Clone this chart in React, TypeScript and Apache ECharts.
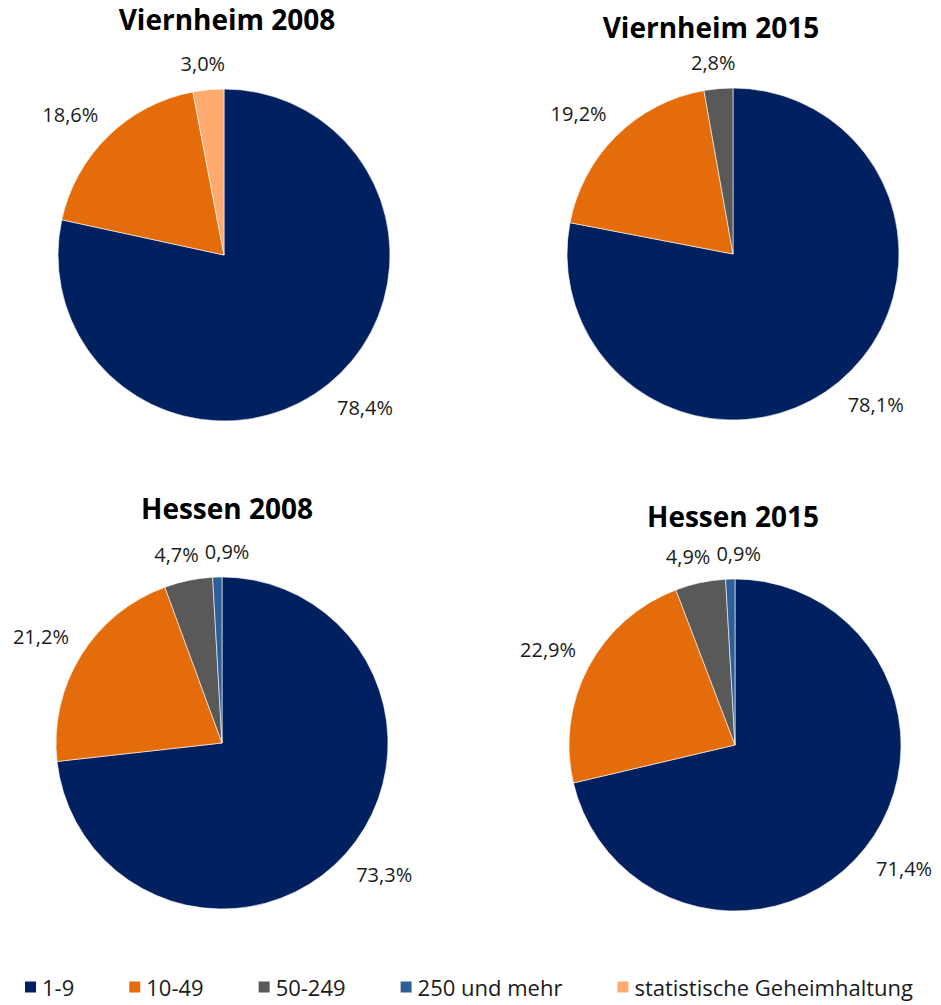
import React, { useEffect, useRef } from "react";
import * as echarts from "echarts";

const categories = ["1-9", "10-49", "50-249", "250 und mehr", "statistische Geheimhaltung"];
const colors: Record<string, string> = {
  "1-9": "#002060",
  "10-49": "#E46C0A",
  "50-249": "#595959",
  "250 und mehr": "#2F5F98",
  "statistische Geheimhaltung": "#FFAA6E",
};

const viernheim2008Names = ["1-9", "10-49", "statistische Geheimhaltung"];
const viernheim2008Values = [78.4, 18.6, 3.0];
const viernheim2015Names = ["1-9", "10-49", "50-249"];
const viernheim2015Values = [78.1, 19.2, 2.8];
const hessen2008Names = ["1-9", "10-49", "50-249", "250 und mehr"];
const hessen2008Values = [73.3, 21.2, 4.7, 0.9];
const hessen2015Names = ["1-9", "10-49", "50-249", "250 und mehr"];
const hessen2015Values = [71.4, 22.9, 4.9, 0.9];

const panels = [
  { title: "Viernheim 2008", names: viernheim2008Names, values: viernheim2008Values, cx: 224, cy: 255, tx: 227, ty: 5 },
  { title: "Viernheim 2015", names: viernheim2015Names, values: viernheim2015Values, cx: 733, cy: 254, tx: 711, ty: 13 },
  { title: "Hessen 2008", names: hessen2008Names, values: hessen2008Values, cx: 222, cy: 743, tx: 227, ty: 494 },
  { title: "Hessen 2015", names: hessen2015Names, values: hessen2015Values, cx: 735, cy: 745, tx: 733, ty: 502 },
];

const RADIUS = 166;
const LABEL_GAP = 14;
const LABEL_FONT_SIZE = 20;
const LABEL_H = 24;
const FONT = "'Open Sans', 'Noto Sans', sans-serif";

const fmtValue = (v: number) => v.toFixed(1).replace(".", ",") + "%";

export default function App() {
  const ref = useRef<HTMLDivElement>(null);
  useEffect(() => {
    if (!ref.current) return;
    const chart = echarts.init(ref.current, undefined, { renderer: "svg" });

    // measure label widths
    const cnv = document.createElement("canvas");
    const ctx = cnv.getContext("2d");
    if (ctx) ctx.font = `${LABEL_FONT_SIZE}px ${FONT}`;
    const measure = (t: string) => (ctx ? ctx.measureText(t).width : t.length * 11);
    const clamp = (v: number) => Math.max(-1, Math.min(1, v * 2));

    // precompute label centres (Excel-like outside-end placement)
    const labelPos = panels.map((p) => {
      const total = p.values.reduce((a, b) => a + b, 0);
      let cum = 0;
      const pos = p.values.map((v) => {
        const mid = ((cum + v / 2) / total) * Math.PI * 2;
        cum += v;
        const ux = Math.sin(mid);
        const uy = -Math.cos(mid);
        const w = measure(fmtValue(v));
        return {
          x: p.cx + (RADIUS + LABEL_GAP) * ux + (w / 2) * clamp(ux),
          y: p.cy + (RADIUS + LABEL_GAP) * uy + (LABEL_H / 2) * clamp(uy),
          w,
        };
      });
      // resolve overlaps between neighbouring labels by pushing the later one clockwise
      for (let i = 1; i < pos.length; i++) {
        const a = pos[i - 1];
        const b = pos[i];
        const ox = (a.w + b.w) / 2 + 6 - Math.abs(b.x - a.x);
        const oy = LABEL_H - Math.abs(b.y - a.y);
        if (ox > 0 && oy > 0) {
          b.x += b.x >= a.x ? ox : ox + 2 * (a.x - b.x);
        }
      }
      return pos;
    });

    const labelLayout = (params: any) => {
      const lp = labelPos[params.seriesIndex][params.dataIndex];
      return { x: lp.x, y: lp.y, align: "center", verticalAlign: "middle", hideOverlap: false };
    };

    chart.setOption({
      animation: false,
      backgroundColor: "#ffffff",
      title: panels.map((p) => ({
        text: p.title,
        left: p.tx,
        top: p.ty,
        textAlign: "center",
        padding: 0,
        textStyle: { fontFamily: FONT, fontWeight: "bold", fontSize: 28, color: "#000000" },
      })),
      legend: {
        data: categories,
        bottom: 2,
        left: 18,
        itemWidth: 13,
        itemHeight: 13,
        itemGap: 53,
        icon: "rect",
        textStyle: { fontFamily: FONT, fontSize: 22, color: "#1a1a1a" },
      },
      series: panels.map((p) => ({
        type: "pie",
        center: [p.cx, p.cy],
        radius: RADIUS,
        startAngle: 90,
        clockwise: true,
        avoidLabelOverlap: false,
        minShowLabelAngle: 0,
        itemStyle: { borderColor: "#ffffff", borderWidth: 0.6 },
        label: {
          show: true,
          position: "outside",
          formatter: (q: any) => fmtValue(Number(q.value)),
          fontFamily: FONT,
          fontSize: LABEL_FONT_SIZE,
          color: "#1a1a1a",
        },
        labelLine: { show: false },
        labelLayout,
        data: p.names.map((n, i) => ({ name: n, value: p.values[i], itemStyle: { color: colors[n] } })),
      })),
    });
    return () => chart.dispose();
  }, []);
  return (
    <div
      ref={ref}
      style={{ position: "fixed", left: 0, top: 0, width: 941, height: 1005 }}
    />
  );
}
